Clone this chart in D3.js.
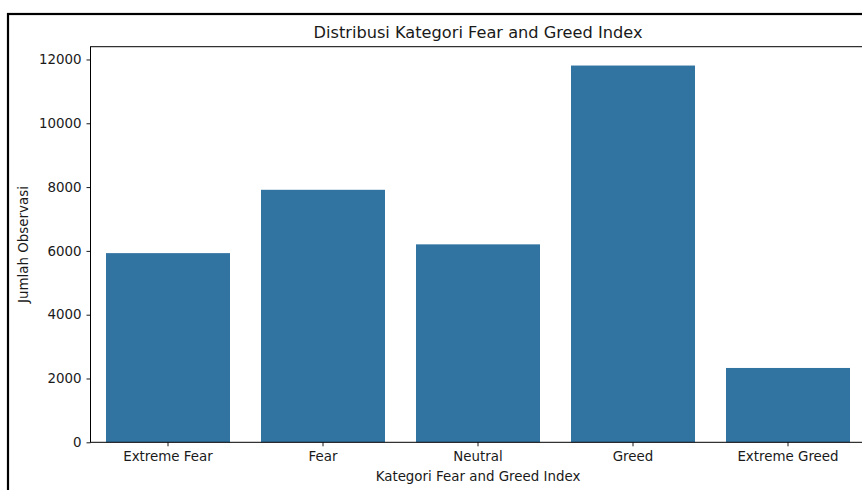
<!DOCTYPE html>
<html>
<head>
<meta charset="UTF-8">
<title>Distribusi Kategori Fear and Greed Index</title>
<script src="https://cdnjs.cloudflare.com/ajax/libs/d3/7.8.5/d3.min.js"></script>
<style>
  body { margin: 0; background: #fff; }
  text { font-family: "DejaVu Sans", sans-serif; fill: #1a1a1a; }
</style>
</head>
<body>
<div id="chart"></div>
<script>
// data
var categories = ["Extreme Fear", "Fear", "Neutral", "Greed", "Extreme Greed"];
var counts = [5930, 7915, 6205, 11810, 2330];
var yTicks = [0, 2000, 4000, 6000, 8000, 10000, 12000];

var W = 862, H = 490;
var plotLeft = 90.5, plotRight = 865.5, plotTop = 46.7, plotBottom = 442.3;

var svg = d3.select("#chart").append("svg")
    .attr("width", W)
    .attr("height", H);

// outer frame from the screenshot
svg.append("rect")
    .attr("x", 8).attr("y", 14)
    .attr("width", 900).attr("height", 600)
    .attr("fill", "none")
    .attr("stroke", "#000")
    .attr("stroke-width", 2.2);

var x = d3.scaleBand()
    .domain(categories)
    .range([plotLeft, plotRight])
    .paddingInner(0.2)
    .paddingOuter(0.1);

var y = d3.scaleLinear()
    .domain([0, d3.max(counts) * 1.05])
    .range([plotBottom, plotTop]);

// bars
svg.selectAll("rect.bar")
    .data(counts)
    .enter()
    .append("rect")
    .attr("class", "bar")
    .attr("x", function(d, i) { return x(categories[i]); })
    .attr("y", function(d) { return y(d); })
    .attr("width", x.bandwidth())
    .attr("height", function(d) { return plotBottom - y(d); })
    .attr("fill", "#3274a1");

// axes
var xAxis = svg.append("g")
    .attr("transform", "translate(0," + plotBottom + ")")
    .call(d3.axisBottom(x).tickSize(4).tickPadding(5.5));

var yAxis = svg.append("g")
    .attr("transform", "translate(" + plotLeft + ",0)")
    .call(d3.axisLeft(y).tickValues(yTicks).tickFormat(d3.format("d")).tickSize(4).tickPadding(5));

[xAxis, yAxis].forEach(function(g) {
    g.select(".domain").remove();
    g.selectAll(".tick line").attr("stroke", "#000").attr("stroke-width", 0.9);
    g.selectAll(".tick text")
        .attr("font-size", "13.4px")
        .attr("font-family", "DejaVu Sans")
        .attr("fill", "#1a1a1a");
});

// spines
svg.append("rect")
    .attr("x", plotLeft).attr("y", plotTop)
    .attr("width", plotRight - plotLeft).attr("height", plotBottom - plotTop)
    .attr("fill", "none")
    .attr("stroke", "#000")
    .attr("stroke-width", 1);

// title and labels
svg.append("text")
    .attr("x", (plotLeft + plotRight) / 2)
    .attr("y", 38)
    .attr("text-anchor", "middle")
    .attr("font-size", "16.2px")
    .text("Distribusi Kategori Fear and Greed Index");

svg.append("text")
    .attr("x", (plotLeft + plotRight) / 2)
    .attr("y", 481)
    .attr("text-anchor", "middle")
    .attr("font-size", "13.4px")
    .text("Kategori Fear and Greed Index");

svg.append("text")
    .attr("transform", "translate(28," + (plotTop + plotBottom) / 2 + ") rotate(-90)")
    .attr("text-anchor", "middle")
    .attr("font-size", "13.4px")
    .text("Jumlah Observasi");
</script>
</body>
</html>
